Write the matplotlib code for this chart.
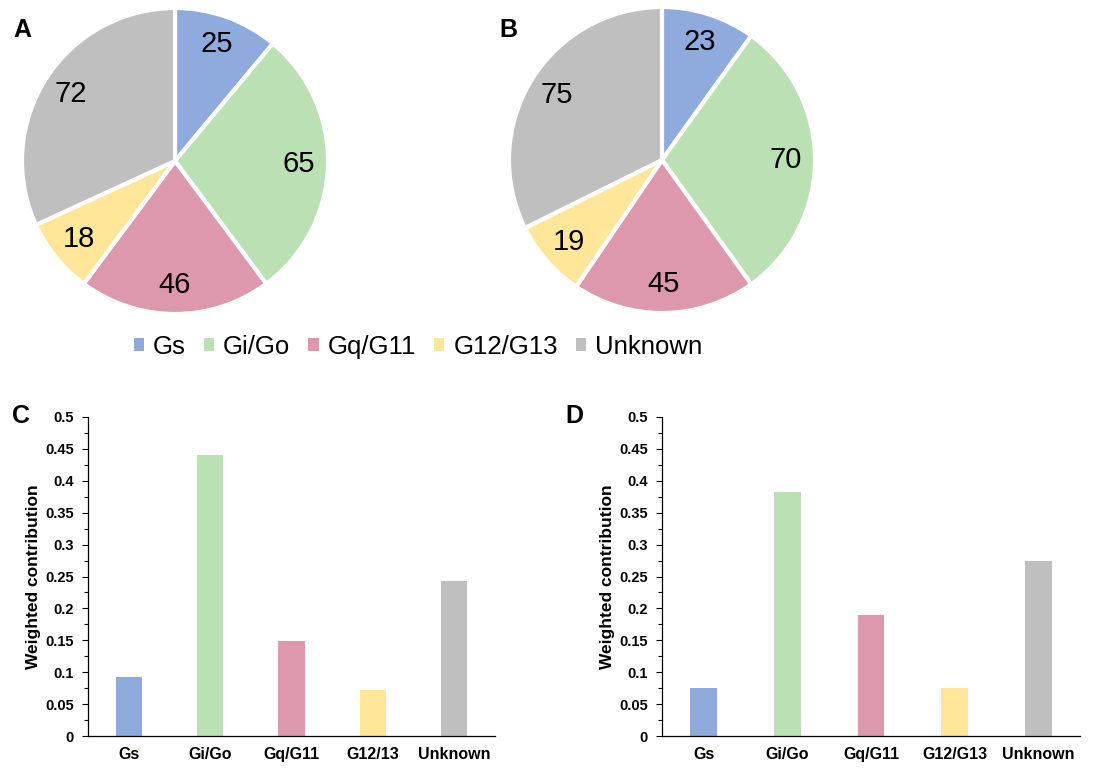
import matplotlib.pyplot as plt
from matplotlib.patches import Patch
from matplotlib.ticker import MultipleLocator

plt.rcParams['font.family'] = ['Liberation Sans', 'DejaVu Sans']

# pie counts
groups = ['Gs', 'Gi/Go', 'Gq/G11', 'G12/G13', 'Unknown']
counts_a = [25, 65, 46, 18, 72]
counts_b = [23, 70, 45, 19, 75]

# weighted contribution bars
bar_labels_c = ['Gs', 'Gi/Go', 'Gq/G11', 'G12/13', 'Unknown']
bar_labels_d = ['Gs', 'Gi/Go', 'Gq/G11', 'G12/G13', 'Unknown']
weights_c = [0.092, 0.441, 0.149, 0.072, 0.243]
weights_d = [0.075, 0.382, 0.190, 0.075, 0.274]

colors = ['#8FAADC', '#BBE0B3', '#DE98AE', '#FFE699', '#BFBFBF']

W, H = 1102, 769
fig = plt.figure(figsize=(W / 100, H / 100), dpi=100)


def px_axes(x0, y0, x1, y1):
    # pixel box (top-left origin) -> figure axes
    return fig.add_axes([x0 / W, 1 - y1 / H, (x1 - x0) / W, (y1 - y0) / H])


def draw_pie(ax, counts):
    wedges, texts = ax.pie(counts, colors=colors, startangle=90, counterclock=False,
                           labels=[str(c) for c in counts], labeldistance=0.81,
                           wedgeprops=dict(edgecolor='white', linewidth=3),
                           textprops=dict(fontsize=21, color='black'))
    for t in texts:
        t.set_ha('center')
        t.set_va('center')
    for w in wedges:
        w.set_clip_on(False)
    ax.set_xlim(-1, 1)
    ax.set_ylim(-1, 1)


ax_a = px_axes(22, 8, 328, 314)
draw_pie(ax_a, counts_a)
ax_b = px_axes(509, 7, 815, 313)
draw_pie(ax_b, counts_b)


def draw_bars(ax, labels, vals):
    x = range(len(vals))
    ax.bar(x, vals, width=0.32, color=colors)
    ax.set_xlim(-0.5, len(vals) - 0.5)
    ax.set_ylim(0, 0.5)
    ax.yaxis.set_minor_locator(MultipleLocator(0.025))
    ax.set_yticks([i * 0.05 for i in range(11)])
    ax.set_yticklabels(['0', '0.05', '0.1', '0.15', '0.2', '0.25', '0.3',
                        '0.35', '0.4', '0.45', '0.5'], fontweight='bold', fontsize=10.5)
    ax.set_xticks(list(x))
    ax.set_xticklabels(labels, fontweight='bold', fontsize=11.5)
    ax.tick_params(axis='x', length=0, pad=8)
    ax.tick_params(axis='y', which='major', length=4, width=0.8, pad=6)
    ax.tick_params(axis='y', which='minor', length=3, width=0.8)
    for s in ['top', 'right']:
        ax.spines[s].set_visible(False)
    ax.spines['left'].set_linewidth(0.9)
    ax.spines['bottom'].set_linewidth(0.9)
    ax.set_ylabel('Weighted contribution', fontweight='bold', fontsize=12.5, labelpad=3)


ax_c = px_axes(88, 417, 495, 736)
draw_bars(ax_c, bar_labels_c, weights_c)
ax_d = px_axes(662, 417, 1080, 736)
draw_bars(ax_d, bar_labels_d, weights_d)

# shared legend for the pies
handles = [Patch(facecolor=c, edgecolor='none') for c in colors]
fig.legend(handles, groups, loc='center', bbox_to_anchor=(418 / W, 1 - 347 / H),
           ncol=5, frameon=False, fontsize=18.5, handlelength=0.4, handleheight=0.4,
           handletextpad=0.35, columnspacing=0.7)

# panel letters
for lab, (px, py) in zip('ABCD', [(22, 30), (508, 30), (21, 416), (574, 416)]):
    fig.text(px / W, 1 - py / H, lab, fontsize=18, fontweight='bold',
             ha='center', va='center')

fig.savefig('out.png', dpi=100)
